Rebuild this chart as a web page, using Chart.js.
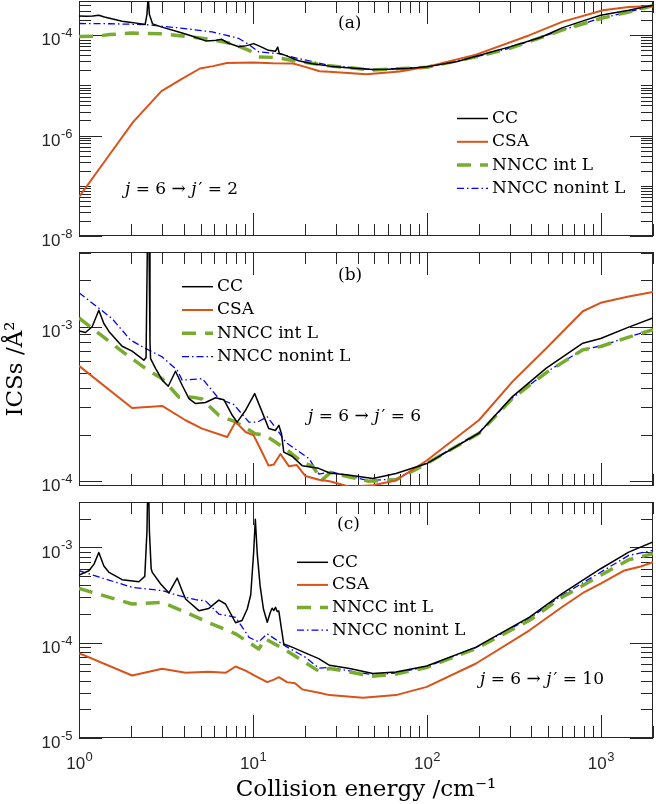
<!DOCTYPE html>
<html>
<head>
<meta charset="utf-8">
<script src="https://cdn.jsdelivr.net/npm/chart.js@4.4.1/dist/chart.umd.min.js"></script>
<style>
  body { margin: 0; background: #fff; }
  #wrap { position: relative; width: 656px; height: 804px; }
  canvas { position: absolute; left: 0; }
</style>
</head>
<body>
<div id="wrap">
  <canvas id="panelA" width="656" height="250" style="top:0px"></canvas>
  <canvas id="panelB" width="656" height="250" style="top:250px"></canvas>
  <canvas id="panelC" width="656" height="304" style="top:500px"></canvas>
</div>
<script>
// ---- data (collision energy in cm^-1, ICS in A^2) ----
const seriesNames = ["CC", "CSA", "NNCC int L", "NNCC nonint L"];

const xTicks = [1, 10, 100, 1000];
const xRange = [1, 2000];
const yTicksA = [1e-8, 1e-6, 1e-4];
const yTicksB = [1e-4, 1e-3];
const yTicksC = [1e-5, 1e-4, 1e-3];
const yRangeA = [1e-8, 4.8e-4];
const yRangeB = [9.3e-5, 3.05e-3];
const yRangeC = [1e-5, 3e-3];

// panel (a): j=6 -> j'=2
const energyCC_a = [1, 1.1, 1.2, 1.3, 1.4, 1.77, 2.0, 2.4, 2.46, 2.5, 2.54, 2.65, 3.0, 3.75, 4.5, 5.35, 6.0, 6.6, 7.2, 8.3, 9.2, 10.1, 11, 12.3, 13.5, 13.9, 14.2, 15, 18.3, 22, 27.6, 35, 49, 60, 80, 100, 150, 192, 300, 450, 600, 800, 1000, 1450, 2000];
const icsCC_a = [2.4e-4, 2.38e-4, 2.42e-4, 2.5e-4, 2.3e-4, 1.9e-4, 1.8e-4, 1.63e-4, 2.6e-4, 6e-4, 2.6e-4, 1.68e-4, 1.45e-4, 1.16e-4, 9.5e-5, 7.7e-5, 7.8e-5, 8.3e-5, 7.0e-5, 5.9e-5, 6.2e-5, 6.8e-5, 6.0e-5, 5.0e-5, 4.8e-5, 5.8e-5, 4.3e-5, 4.1e-5, 3.1e-5, 2.7e-5, 2.42e-5, 2.25e-5, 2.07e-5, 2.1e-5, 2.2e-5, 2.34e-5, 3.0e-5, 3.82e-5, 5.86e-5, 9.0e-5, 1.4e-4, 1.95e-4, 2.5e-4, 3.15e-4, 3.95e-4];
const energyCSA_a = [1, 1.5, 2.05, 2.98, 3.8, 4.96, 5.9, 7.07, 10, 13, 17, 20, 24.2, 27.6, 45, 70, 100, 192, 390, 600, 1030, 1450, 2000];
const icsCSA_a = [6.0e-8, 4.2e-7, 1.88e-6, 7.7e-6, 1.27e-5, 2.17e-5, 2.42e-5, 2.8e-5, 2.85e-5, 2.75e-5, 2.73e-5, 2.34e-5, 1.92e-5, 1.86e-5, 1.67e-5, 1.9e-5, 2.34e-5, 4.1e-5, 1.0e-4, 1.84e-4, 3.15e-4, 3.66e-4, 3.8e-4];
const energyInt_a = [1, 1.3, 1.5, 2, 3, 4.1, 5.8, 7.6, 9.5, 10.8, 13.5, 18.3, 27.6, 49, 100, 192, 300, 600, 1000, 1450, 2000];
const icsInt_a = [9.4e-5, 9.6e-5, 1.03e-4, 1.1e-4, 1.07e-4, 9.5e-5, 8.2e-5, 6.8e-5, 5.0e-5, 3.7e-5, 3.6e-5, 3.0e-5, 2.45e-5, 2.02e-5, 2.3e-5, 3.7e-5, 5.5e-5, 1.26e-4, 2.15e-4, 2.9e-4, 3.85e-4];
const energyNonint_a = [1, 1.5, 2.4, 3.75, 5.83, 7, 8.3, 9.5, 10.8, 14.1, 18.3, 27.6, 49, 100, 192, 300, 600, 1000, 1450, 2000];
const icsNonint_a = [1.71e-4, 1.69e-4, 1.63e-4, 1.4e-4, 1.16e-4, 1.0e-4, 8.6e-5, 6.5e-5, 4.65e-5, 4.3e-5, 3.43e-5, 2.5e-5, 2.05e-5, 2.32e-5, 3.72e-5, 5.55e-5, 1.27e-4, 2.17e-4, 2.92e-4, 3.87e-4];

// panel (b): j=6 -> j'=6
const energyCC_b = [1, 1.09, 1.19, 1.30, 1.39, 1.49, 1.77, 2.02, 2.36, 2.43, 2.47, 2.5, 2.53, 2.56, 2.58, 2.76, 3.01, 3.26, 3.59, 3.92, 4.29, 4.68, 5.34, 6.10, 6.81, 7.61, 8.12, 9.08, 10.24, 11.1, 12.33, 13.5, 14.1, 14.6, 15.05, 16.8, 19.2, 23.9, 27.6, 34.5, 49, 66.5, 100, 200, 311, 487, 790, 1000, 1450, 2000];
const icsCC_b = [9.4e-4, 9.18e-4, 1.0e-3, 1.28e-3, 1.05e-3, 9.3e-4, 7.48e-4, 6.95e-4, 6.08e-4, 6.3e-4, 3e-3, 1e-2, 3e-3, 8e-4, 6.22e-4, 5.36e-4, 4.51e-4, 4.12e-4, 5.15e-4, 4.18e-4, 3.42e-4, 3.18e-4, 3.23e-4, 3.47e-4, 3.37e-4, 2.67e-4, 2.41e-4, 2.88e-4, 3.69e-4, 2.95e-4, 2.19e-4, 2.13e-4, 2.3e-4, 2.03e-4, 1.54e-4, 1.45e-4, 1.26e-4, 1.21e-4, 1.13e-4, 1.1e-4, 1.04e-4, 1.12e-4, 1.3e-4, 2.05e-4, 3.53e-4, 5.39e-4, 7.83e-4, 8.4e-4, 9.95e-4, 1.14e-3];
const energyCSA_b = [1, 2.02, 3.01, 4.1, 5.1, 7.12, 7.95, 9.08, 10.1, 11.3, 12.3, 13.2, 14.4, 16.1, 17.9, 20, 24, 27.6, 36, 49, 66.5, 100, 200, 311, 487, 790, 1000, 1450, 2000];
const icsCSA_b = [5.58e-4, 2.98e-4, 3.07e-4, 2.48e-4, 2.19e-4, 1.93e-4, 2.42e-4, 2.08e-4, 1.98e-4, 1.54e-4, 1.26e-4, 1.28e-4, 1.5e-4, 1.25e-4, 1.27e-4, 1.08e-4, 1.02e-4, 9.97e-5, 9.2e-5, 9.4e-5, 1.01e-4, 1.36e-4, 2.49e-4, 4.41e-4, 7.26e-4, 1.26e-3, 1.43e-3, 1.57e-3, 1.68e-3];
const energyInt_b = [1, 1.3, 1.7, 2.41, 3.01, 3.75, 4.48, 5.1, 6.37, 7.95, 10.3, 11.8, 15.4, 19.2, 22, 25, 28, 35, 46, 66.5, 100, 200, 311, 487, 790, 1000, 1450, 2000];
const icsInt_b = [1.14e-3, 9.05e-4, 7.16e-4, 5.37e-4, 4.61e-4, 3.51e-4, 3.5e-4, 3.4e-4, 2.67e-4, 2.42e-4, 2.03e-4, 1.98e-4, 1.62e-4, 1.33e-4, 1.25e-4, 1.02e-4, 1.14e-4, 1.07e-4, 1.0e-4, 1.02e-4, 1.3e-4, 2.04e-4, 3.44e-4, 5.05e-4, 7.09e-4, 7.45e-4, 8.57e-4, 9.57e-4];
const energyNonint_b = [1, 1.55, 1.98, 2.42, 3.01, 3.67, 3.92, 5.12, 6.38, 7.78, 9.49, 10.6, 12.1, 14.1, 15.4, 21, 24, 28, 35, 46, 66.5, 100, 200, 311, 487, 790, 1000, 1450, 2000];
const icsNonint_b = [1.66e-3, 1.13e-3, 8.19e-4, 7.23e-4, 6.38e-4, 5.23e-4, 4.51e-4, 4.61e-4, 3.42e-4, 3.13e-4, 2.41e-4, 2.41e-4, 2.61e-4, 2.08e-4, 1.79e-4, 1.40e-4, 1.11e-4, 1.15e-4, 1.08e-4, 1.01e-4, 1.03e-4, 1.31e-4, 2.07e-4, 3.46e-4, 5.08e-4, 7.12e-4, 7.5e-4, 8.6e-4, 9.6e-4];

// panel (c): j=6 -> j'=10
const energyCC_c = [1, 1.14, 1.22, 1.3, 1.39, 1.49, 1.77, 2.21, 2.39, 2.46, 2.5, 2.54, 2.6, 2.64, 2.95, 3.29, 3.67, 3.92, 4.1, 4.89, 5.58, 6.37, 6.96, 7.95, 8.66, 9.28, 9.72, 10.1, 10.33, 10.6, 11.0, 11.5, 12.1, 12.6, 12.9, 13.2, 13.5, 13.8, 14.1, 14.6, 15.05, 16.8, 20, 23.9, 27.6, 36, 49, 66.5, 100, 192, 390, 600, 1000, 1450, 2000];
const icsCC_c = [5.13e-4, 5.7e-4, 6.68e-4, 8.87e-4, 6.4e-4, 5.47e-4, 4.59e-4, 4.37e-4, 4.97e-4, 1.5e-3, 8e-3, 1.5e-3, 6e-4, 5.47e-4, 4.13e-4, 3.33e-4, 4.77e-4, 3.52e-4, 2.88e-4, 2.17e-4, 2.29e-4, 2.8e-4, 2.55e-4, 1.62e-4, 1.71e-4, 2.26e-4, 3.19e-4, 8.86e-4, 1.98e-3, 8.5e-4, 3.97e-4, 2.26e-4, 1.64e-4, 2.09e-4, 2.3e-4, 2.18e-4, 2.35e-4, 2.13e-4, 2.15e-4, 1.4e-4, 9.7e-5, 9.0e-5, 7.82e-5, 6.8e-5, 5.8e-5, 5.37e-5, 4.76e-5, 4.94e-5, 5.7e-5, 9.0e-5, 1.86e-4, 3.27e-4, 5.98e-4, 8.93e-4, 1.14e-3];
const energyCSA_c = [1, 2.02, 3.01, 4.1, 5.58, 6.96, 7.95, 9.07, 10.3, 12.1, 13.2, 14.1, 15.7, 17.5, 19.2, 24, 27.6, 43, 66.5, 100, 192, 390, 600, 790, 1000, 1370, 1700, 2000];
const icsCSA_c = [7.76e-5, 4.53e-5, 5.32e-5, 4.83e-5, 4.95e-5, 4.83e-5, 5.63e-5, 5.1e-5, 4.5e-5, 3.86e-5, 4.1e-5, 4.35e-5, 3.86e-5, 3.75e-5, 3.24e-5, 2.99e-5, 2.82e-5, 2.64e-5, 2.82e-5, 3.44e-5, 6.05e-5, 1.35e-4, 2.37e-4, 3.33e-4, 4.17e-4, 5.74e-4, 6.32e-4, 7.02e-4];
const energyInt_c = [1, 2.02, 3.01, 4.1, 5.83, 7.95, 10.8, 11.8, 15.4, 19.2, 24, 27.6, 49, 66.5, 100, 192, 390, 600, 1000, 1450, 2000];
const icsInt_c = [3.72e-4, 2.55e-4, 2.65e-4, 2.09e-4, 1.57e-4, 1.24e-4, 8.6e-5, 1.1e-4, 8.37e-5, 6.52e-5, 5.0e-5, 5.37e-5, 4.46e-5, 4.7e-5, 5.5e-5, 8.7e-5, 1.72e-4, 3.0e-4, 5.1e-4, 7.43e-4, 8.6e-4];
const energyNonint_c = [1, 2.02, 3.01, 3.75, 4.68, 5.34, 6.37, 7.95, 9.5, 10.8, 12.1, 15.4, 20, 24, 27.6, 49, 66.5, 100, 192, 390, 600, 1000, 1450, 2000];
const icsNonint_c = [5.7e-4, 3.81e-4, 3.52e-4, 3.12e-4, 2.83e-4, 2.75e-4, 2.0e-4, 1.85e-4, 1.14e-4, 1.02e-4, 1.24e-4, 9.2e-5, 7.05e-5, 5.4e-5, 5.5e-5, 4.6e-5, 4.8e-5, 5.6e-5, 8.9e-5, 1.8e-4, 3.15e-4, 5.5e-4, 8.25e-4, 9.3e-4];

// ---- styles ----
const lineStyles = [
  { borderColor: "#000000", borderWidth: 1.5 },
  { borderColor: "#D95319", borderWidth: 2 },
  { borderColor: "#77AC30", borderWidth: 3.5, borderDash: [14, 9] },
  { borderColor: "#0000FF", borderWidth: 1.3, borderDash: [7, 3, 1.5, 3] },
];
const AXIS_COLOR = "#262626";
const SERIF = '"DejaVu Serif", serif';
const SANS = '"Liberation Sans", Arial, sans-serif';

function series(i, xs, ys) {
  return Object.assign({
    label: seriesNames[i],
    data: xs.map((x, k) => ({ x: x, y: ys[k] })),
    showLine: true,
    fill: false,
    tension: 0,
    pointRadius: 0,
    borderJoinStyle: "round",
  }, lineStyles[i]);
}

// "10" with a raised exponent, placed from a scale pixel
function drawPow(ctx, v, x, baseline, align) {
  const e = String(Math.round(Math.log10(v)));
  ctx.font = "17px " + SANS;
  const w1 = ctx.measureText("10").width;
  ctx.font = "13px " + SANS;
  const w2 = ctx.measureText(e).width + 0.5;
  const x0 = align === "right" ? x - w1 - w2 : x - (w1 + w2) / 2;
  ctx.font = "17px " + SANS;
  ctx.fillText("10", x0, baseline);
  ctx.font = "13px " + SANS;
  ctx.fillText(e, x0 + w1 + 0.5, baseline - 8.3);
}

// box, inward ticks on all four sides, tick labels, legend and notes
const panelDecor = {
  id: "panelDecor",
  beforeDatasetsDraw(chart, args, opts) {
    const { ctx, chartArea: a } = chart;
    const xs = chart.scales.x, ys = chart.scales.y;
    const yMajor = opts.yMajor.map((v) => Math.round(Math.log10(v)));
    ctx.save();
    ctx.strokeStyle = AXIS_COLOR;
    ctx.lineWidth = 1;
    ctx.beginPath();
    for (let n = Math.floor(Math.log10(xs.min)); n <= Math.ceil(Math.log10(xs.max)); n++) {
      for (let k = 1; k <= 9; k++) {
        const v = k * Math.pow(10, n);
        if (v < xs.min * 0.999 || v > xs.max * 1.001) continue;
        const px = Math.round(xs.getPixelForValue(v)) + 0.5;
        const len = k === 1 ? 23 : 12;
        ctx.moveTo(px, a.bottom); ctx.lineTo(px, a.bottom - len);
        ctx.moveTo(px, a.top); ctx.lineTo(px, a.top + len);
      }
    }
    for (let n = Math.floor(Math.log10(ys.min)); n <= Math.ceil(Math.log10(ys.max)); n++) {
      for (let k = 1; k <= 9; k++) {
        const v = k * Math.pow(10, n);
        if (v < ys.min * 0.999 || v > ys.max * 1.001) continue;
        const py = Math.round(ys.getPixelForValue(v)) + 0.5;
        const len = (k === 1 && yMajor.includes(n)) ? 23 : 12;
        ctx.moveTo(a.left, py); ctx.lineTo(a.left + len, py);
        ctx.moveTo(a.right, py); ctx.lineTo(a.right - len, py);
      }
    }
    ctx.stroke();
    ctx.strokeRect(a.left + 0.5, a.top + 0.5, a.right - a.left - 1, a.bottom - a.top - 1);
    ctx.restore();
  },
  afterDraw(chart, args, opts) {
    const ctx = chart.ctx;
    const a = chart.chartArea;
    const xs = chart.scales.x, ys = chart.scales.y;
    ctx.save();
    // tick labels
    ctx.fillStyle = AXIS_COLOR;
    ctx.textBaseline = "alphabetic";
    ctx.textAlign = "left";
    opts.yMajor.forEach((v) => drawPow(ctx, v, a.left - 6.5, ys.getPixelForValue(v) + 10.3, "right"));
    if (opts.xLabels) {
      xTicks.forEach((v) => drawPow(ctx, v, xs.getPixelForValue(v) + 0.5, a.bottom + 31, "center"));
    }
    // legend
    ctx.fillStyle = "#000";
    ctx.textBaseline = "middle";
    const L = opts.legend;
    ctx.font = "17px " + SERIF;
    chart.data.datasets.forEach((ds, i) => {
      const yy = L.y + i * L.dy;
      ctx.save();
      ctx.strokeStyle = ds.borderColor;
      ctx.lineWidth = ds.borderWidth;
      ctx.setLineDash(ds.borderDash || []);
      ctx.beginPath();
      ctx.moveTo(L.x, yy);
      ctx.lineTo(L.x + 31, yy);
      ctx.stroke();
      ctx.restore();
      ctx.fillText(ds.label, L.x + 35, yy);
    });
    // panel tag
    ctx.font = "17px " + SERIF;
    ctx.fillText(opts.tag.text, opts.tag.x, opts.tag.y);
    // transition note, j italic
    let cx = opts.note.x;
    opts.note.parts.forEach((p) => {
      cx += p[2] || 0;
      ctx.font = (p[1] ? "italic " : "") + "17px " + SERIF;
      ctx.fillText(p[0], cx, opts.note.y);
      cx += ctx.measureText(p[0]).width;
    });
    ctx.restore();
  },
};

function noPad(s) {
  s.paddingTop = 0; s.paddingBottom = 0; s.paddingLeft = 0; s.paddingRight = 0;
}

function makePanel(id, datasets, yRange, yTicks, decor, extra) {
  const showX = extra.showX;
  return new Chart(document.getElementById(id), {
    type: "scatter",
    data: { datasets: datasets },
    options: {
      responsive: false,
      animation: false,
      layout: { padding: { top: extra.top, right: 3, left: 0, bottom: 0 } },
      plugins: {
        legend: { display: false },
        tooltip: { enabled: false },
        panelDecor: Object.assign({ xLabels: showX }, decor),
      },
      scales: {
        x: {
          type: "logarithmic",
          min: xRange[0],
          max: xRange[1],
          grid: { display: false, drawTicks: false },
          border: { display: false },
          afterBuildTicks: (s) => { s.ticks = xTicks.map((v) => ({ value: v })); },
          afterFit: (s) => { s.height = extra.xHeight; noPad(s); },
          ticks: { display: false },
          title: {
            display: showX,
            text: "Collision energy /cm⁻¹",
            color: "#000",
            font: { family: SERIF, size: 23 },
            padding: { top: 0, bottom: 0 },
          },
        },
        y: {
          type: "logarithmic",
          min: yRange[0],
          max: yRange[1],
          grid: { display: false, drawTicks: false },
          border: { display: false },
          afterBuildTicks: (s) => { s.ticks = yTicks.map((v) => ({ value: v })); },
          afterFit: (s) => { s.width = 79; noPad(s); },
          ticks: { display: false },
          title: {
            display: !!extra.yTitle,
            text: "ICSs /Å²",
            color: "#000",
            font: { family: SERIF, size: 23 },
            padding: { top: 2, bottom: 0 },
          },
        },
      },
    },
    plugins: [panelDecor],
  });
}

makePanel("panelA", [
  series(0, energyCC_a, icsCC_a),
  series(1, energyCSA_a, icsCSA_a),
  series(2, energyInt_a, icsInt_a),
  series(3, energyNonint_a, icsNonint_a),
], yRangeA, yTicksA, {
  yMajor: yTicksA,
  legend: { x: 457, y: 118.5, dy: 23.3 },
  tag: { text: "(a)", x: 338, y: 24 },
  note: { x: 125, y: 190, parts: [["j", true], [" = 6 → ", false], ["j", true], ["′", false, 2], [" = 2", false]] },
}, { top: 1, xHeight: 14, showX: false });

makePanel("panelB", [
  series(0, energyCC_b, icsCC_b),
  series(1, energyCSA_b, icsCSA_b),
  series(2, energyInt_b, icsInt_b),
  series(3, energyNonint_b, icsNonint_b),
], yRangeB, yTicksB, {
  yMajor: yTicksB,
  legend: { x: 182, y: 36.7, dy: 23.3 },
  tag: { text: "(b)", x: 338, y: 26 },
  note: { x: 308, y: 166.7, parts: [["j", true], [" = 6 → ", false], ["j", true], ["′", false, 2], [" = 6", false]] },
}, { top: 2, xHeight: 14, showX: false, yTitle: true });

makePanel("panelC", [
  series(0, energyCC_c, icsCC_c),
  series(1, energyCSA_c, icsCSA_c),
  series(2, energyInt_c, icsInt_c),
  series(3, energyNonint_c, icsNonint_c),
], yRangeC, yTicksC, {
  yMajor: yTicksC,
  legend: { x: 297, y: 62.3, dy: 22.6 },
  tag: { text: "(c)", x: 337, y: 25 },
  note: { x: 480, y: 180, parts: [["j", true], [" = 6 → ", false], ["j", true], ["′", false, 2], [" = 10", false]] },
}, { top: 2, xHeight: 66, showX: true });
</script>
</body>
</html>
